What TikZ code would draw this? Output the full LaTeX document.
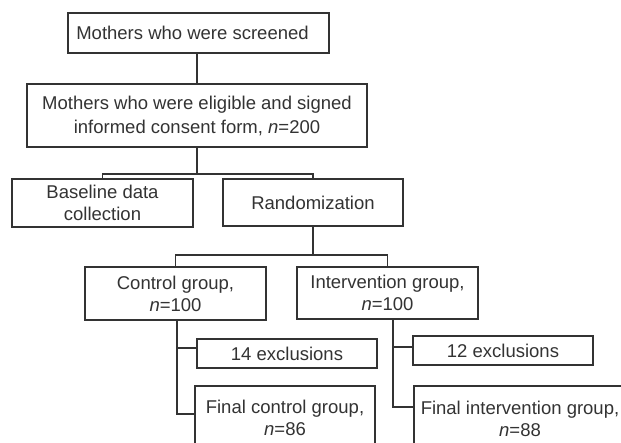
\documentclass[tikz,border=0pt]{standalone}
\usepackage{fontspec}
\setmainfont{Liberation Sans}
\definecolor{ink}{rgb}{0.2,0.2,0.2}
\begin{document}
\begin{tikzpicture}[x=1pt,y=-1pt,
  box/.style={draw=ink, text=ink, line width=1.2pt, inner sep=0pt, align=center,
    font=\fontsize{18.5}{22}\selectfont},
  conn/.style={draw=ink, line width=1.2pt}]
\useasboundingbox (0,0) rectangle (621,442);
\clip (0,0) rectangle (621,442);
\fill[white] (0,0) rectangle (621,442);
\node[box, minimum width=261pt, minimum height=40pt] (b1) at (198.5,33) {Mothers who were screened\hspace*{12pt}};
\node[box, minimum width=340pt, minimum height=63pt, font=\fontsize{18.5}{24}\selectfont] (b2) at (197,115.5) {Mothers who were eligible and signed\\informed consent form, \textit{n}=200};
\node[box, minimum width=181pt, minimum height=48pt] (b3) at (102.5,203) {Baseline data\\collection};
\node[box, minimum width=180pt, minimum height=47pt] (b4) at (313,202.5) {Randomization};
\node[box, minimum width=181pt, minimum height=53pt] (b5) at (175.5,293.5) {Control group,\\\textit{n}=100};
\node[box, minimum width=181pt, minimum height=52pt] (b6) at (387.5,293) {Intervention group,\\\textit{n}=100};
\node[box, minimum width=180pt, minimum height=29pt] (b7) at (287,353.5) {14 exclusions};
\node[box, minimum width=180pt, minimum height=29pt] (b8) at (503,350.5) {12 exclusions};
\node[box, minimum width=180pt, minimum height=64pt] (b9) at (285,418) {Final control group,\\\textit{n}=86};
\node[box, minimum width=212pt, minimum height=66pt] (b10) at (520,419) {Final intervention group,\\\textit{n}=88};
\coordinate (j1) at (197,174);
\coordinate (j2) at (313,255);
\draw[conn] (b2.north) -- (b2.north |- b1.south);
\draw[conn] (b2.south) -- (j1);
\draw[conn] (b3.north) |- (j1) -| (b4.north);
\draw[conn] (b4.south) -- (j2);
\draw[conn] (b5.north) |- (j2) -| (b6.north);
\draw[conn] ([xshift=1.5pt]b5.south) |- ([yshift=4pt]b9.west);
\draw[conn] ([xshift=1.5pt]b5.south) |- ([yshift=5.5pt]b7.west);
\draw[conn] ([xshift=5.5pt]b6.south) |- ([yshift=12pt]b10.west);
\draw[conn] ([xshift=5.5pt]b6.south) |- ([yshift=3.5pt]b8.west);
\end{tikzpicture}
\end{document}
